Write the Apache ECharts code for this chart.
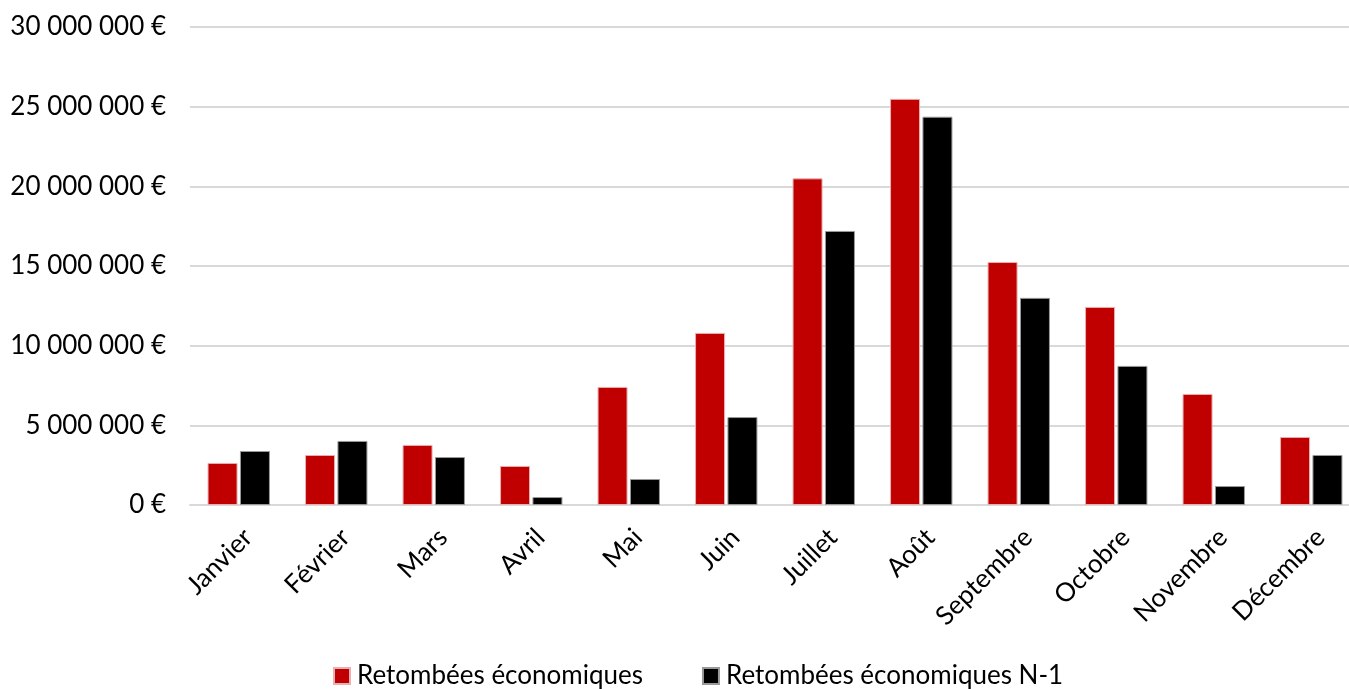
<!DOCTYPE html>
<html><head><meta charset="utf-8">
<script src="https://cdn.jsdelivr.net/npm/echarts@6/dist/echarts.min.js"></script>
<style>html,body{margin:0;padding:0;background:#fff;overflow:hidden;width:1349px;height:689px}#c{width:1360px;height:689px}</style>
</head><body><div id="c"></div>
<script>
const categories = ['Janvier','Février','Mars','Avril','Mai','Juin','Juillet','Août','Septembre','Octobre','Novembre','Décembre'];
const seriesNames = ['Retombées économiques','Retombées économiques N-1'];
const current = [2640000, 3140000, 3770000, 2450000, 7410000, 10800000, 20500000, 25490000, 15250000, 12430000, 6970000, 4270000];
const previous = [3390000, 4020000, 3010000, 500000, 1630000, 5520000, 17200000, 24370000, 13000000, 8730000, 1190000, 3140000];
const yTicks = [0, 5000000, 10000000, 15000000, 20000000, 25000000, 30000000];

const fmt = v => String(v).replace(/\B(?=(\d{3})+(?!\d))/g, ' ') + ' €';
const font = 'Lato, "Open Sans", sans-serif';
const chart = echarts.init(document.getElementById('c'));
chart.setOption({
  animation: false,
  grid: {left: 190, right: 0, top: 27, height: 478, containLabel: false},
  legend: {
    top: 663, left: 333, padding: 0, itemWidth: 16, itemHeight: 16, itemGap: 59,
    icon: 'rect',
    textStyle: {fontFamily: font, fontSize: 26, color: '#000', padding: [0, 0, 0, 2]},
    data: seriesNames
  },
  xAxis: {
    type: 'category', data: categories,
    axisTick: {show: false},
    axisLine: {lineStyle: {color: '#d9d9d9', width: 2}},
    axisLabel: {rotate: 45, fontFamily: font, fontSize: 26, color: '#000', margin: 19, interval: 0, verticalAlign: 'top'}
  },
  yAxis: {
    type: 'value', min: 0, max: 30000000, interval: 5000000,
    axisLine: {show: false}, axisTick: {show: false},
    splitLine: {lineStyle: {color: '#d9d9d9', width: 2}},
    axisLabel: {fontFamily: font, fontSize: 26, color: '#000', margin: 24, formatter: v => yTicks.includes(v) ? fmt(v) : ''}
  },
  series: [
    {name: seriesNames[0], type: 'bar', data: current, barWidth: 30, barGap: '8%',
     itemStyle: {color: '#c00000', borderColor: '#e8b0b0', borderWidth: 1}},
    {name: seriesNames[1], type: 'bar', data: previous, barWidth: 30,
     itemStyle: {color: '#000000', borderColor: '#999', borderWidth: 1}}
  ]
});
</script></body></html>
